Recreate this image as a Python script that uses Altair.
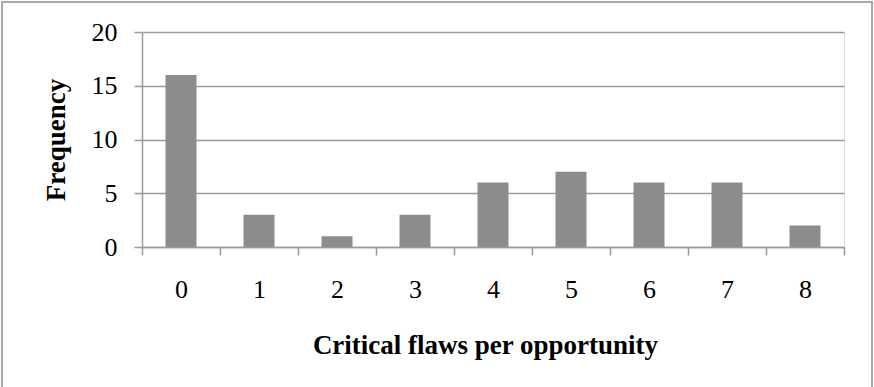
import altair as alt
import pandas as pd

categories = ["0", "1", "2", "3", "4", "5", "6", "7", "8"]
frequency = [16, 3, 1, 3, 6, 7, 6, 6, 2]

df = pd.DataFrame({"flaws": categories, "freq": frequency})

FONT = "Liberation Serif"
GRID = "#9a9a9a"

bars = alt.Chart(df).mark_bar(color="#8c8c8c", width=31).encode(
    x=alt.X(
        "flaws:N",
        sort=categories,
        scale=alt.Scale(paddingInner=0, paddingOuter=0),
        axis=alt.Axis(
            title="Critical flaws per opportunity",
            labelAngle=0,
            tickBand="extent",
            tickSize=8,
            tickColor=GRID,
            tickWidth=1.5,
            domainColor=GRID,
            domainWidth=1.5,
            labelPadding=21,
            labelFontSize=26,
            labelFont=FONT,
            labelColor="#000000",
            titleFont=FONT,
            titleFontSize=27,
            titleFontWeight="bold",
            titleColor="#000000",
            titlePadding=30,
            titleX=343,
            grid=False,
        ),
    ),
    y=alt.Y(
        "freq:Q",
        scale=alt.Scale(domain=[0, 20]),
        axis=alt.Axis(
            title="Frequency",
            values=[0, 5, 10, 15, 20],
            tickSize=8,
            tickColor=GRID,
            tickWidth=1.5,
            domainColor=GRID,
            domainWidth=1.5,
            gridColor=GRID,
            gridWidth=1.5,
            labelPadding=17,
            labelFontSize=26,
            labelFont=FONT,
            labelColor="#000000",
            titleFont=FONT,
            titleFontSize=27,
            titleFontWeight="bold",
            titleColor="#000000",
            titlePadding=21,
        ),
    ),
)

border = alt.Chart(df).mark_rect(
    fill=None, stroke="#a8a8a8", strokeWidth=2
).encode(
    x=alt.value(-140), x2=alt.value(730), y=alt.value(-30), y2=alt.value(362)
)

chart = (
    alt.layer(bars, border)
    .properties(
        width=702,
        height=215,
        autosize=alt.AutoSizeParams(type="none"),
        padding={"left": 142, "top": 32, "right": 30, "bottom": 140},
    )
    .configure_view(stroke=None)
    .configure(background="white")
)

chart.save("out.html", embed_options={"renderer": "svg", "actions": False})
